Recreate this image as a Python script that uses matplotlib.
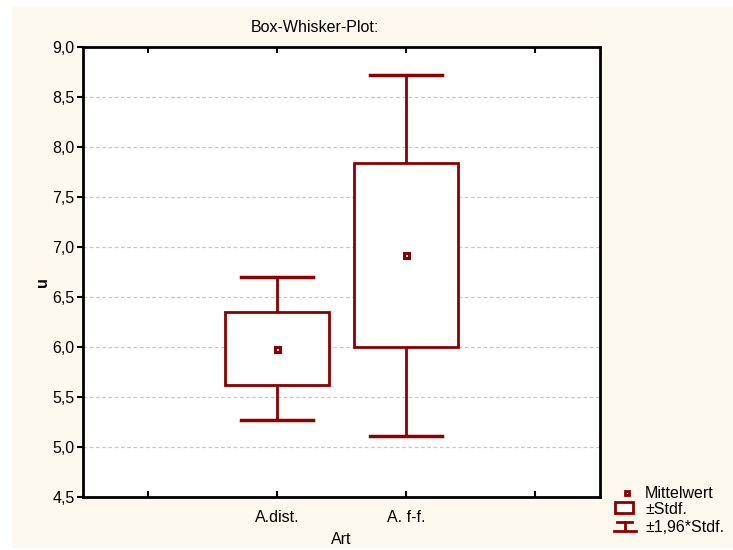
import matplotlib
matplotlib.use("Agg")
import matplotlib.pyplot as plt
from matplotlib.patches import Rectangle

plt.rcParams['font.family'] = ['Liberation Sans', 'DejaVu Sans']

# Group statistics
categories = ["A.dist.", "A. f-f."]
means = [5.985, 6.917]
stdevs = [0.365, 0.920]
z_factor = 1.96

title = "Box-Whisker-Plot:"
x_label = "Art"
y_label = "u"
legend_labels = ["Mittelwert", "±Stdf.", "±1,96*Stdf."]
y_ticks = [4.5, 5.0, 5.5, 6.0, 6.5, 7.0, 7.5, 8.0, 8.5, 9.0]

RED = "#8b0000"
CREAM = "#fdf9ee"
FS = 11.5
W, H = 733, 550

fig = plt.figure(figsize=(W / 100, H / 100), dpi=100, facecolor="white")

# cream backdrop panel
bg = fig.add_axes([0, 0, 1, 1], zorder=-5)
bg.set_xlim(0, W)
bg.set_ylim(H, 0)
bg.axis("off")
bg.add_patch(Rectangle((12, 7), W - 12, H - 9, facecolor=CREAM, edgecolor="none"))

ax = fig.add_axes([83 / W, (H - 497) / H, 517 / W, 450 / H])
ax.set_facecolor("white")
ax.set_xlim(-0.5, 3.5)
ax.set_ylim(4.5, 9.0)

positions = [1, 2]
box_w = 0.80
cap_w = 0.556

for pos, m, s in zip(positions, means, stdevs):
    lo, hi = m - s, m + s
    wlo, whi = m - z_factor * s, m + z_factor * s
    ax.add_patch(Rectangle((pos - box_w / 2, lo), box_w, hi - lo,
                           facecolor="white", edgecolor=RED, lw=2.0, zorder=3))
    ax.plot([pos, pos], [hi, whi], color=RED, lw=2.0, zorder=3, solid_capstyle="butt")
    ax.plot([pos, pos], [wlo, lo], color=RED, lw=2.0, zorder=3, solid_capstyle="butt")
    ax.plot([pos - cap_w / 2, pos + cap_w / 2], [whi, whi], color=RED, lw=2.5, zorder=3)
    ax.plot([pos - cap_w / 2, pos + cap_w / 2], [wlo, wlo], color=RED, lw=2.5, zorder=3)
    ax.plot([pos], [m], marker="s", ms=3.6, mfc="#f6e6e6", mec=RED, mew=2.2, zorder=4)

# y axis
ax.set_yticks(y_ticks)
ax.set_yticklabels([f"{t:.1f}".replace(".", ",") for t in y_ticks], fontsize=FS)
for t in y_ticks[1:-1]:
    ax.axhline(t, color="#c8c8c8", lw=0.9, ls=(0, (3, 2)), zorder=1)
ax.tick_params(axis="y", direction="out", length=4, width=1.5, pad=2, right=False)

# x axis
ax.set_xticks([0, 1, 2, 3])
ax.set_xticklabels(["", categories[0], categories[1], ""], fontsize=FS)
ax.tick_params(axis="x", direction="in", length=4, width=1.5, top=True, pad=9)

for sp in ax.spines.values():
    sp.set_linewidth(2.0)
    sp.set_color("black")

fig.text(315 / W, 1 - 28 / H, title, ha="center", va="center", fontsize=FS)
fig.text(341 / W, 1 - 540 / H, x_label, ha="center", va="center", fontsize=FS)
fig.text(42 / W, 1 - 282 / H, y_label, ha="center", va="center", fontsize=FS,
         rotation=90, fontweight="bold")

# legend drawn in pixel coordinates on an overlay panel
lg = fig.add_axes([0, 0, 1, 1], zorder=5)
lg.set_xlim(0, W)
lg.set_ylim(H, 0)
lg.axis("off")
lg.plot([627], [493], marker="s", ms=3.2, mfc="#f6e6e6", mec=RED, mew=2.0)
lg.add_patch(Rectangle((615, 502), 18, 11, facecolor="white", edgecolor=RED, lw=2.0))
lg.plot([617, 632], [522, 522], color=RED, lw=2.0)
lg.plot([624.5, 624.5], [522, 531], color=RED, lw=2.0)
lg.plot([614, 636], [531, 531], color=RED, lw=2.0)
for ty, txt in zip([493, 510, 527], legend_labels):
    lg.text(645, ty, txt, ha="left", va="center", fontsize=FS)

fig.savefig("out.png", dpi=100, facecolor=fig.get_facecolor())
